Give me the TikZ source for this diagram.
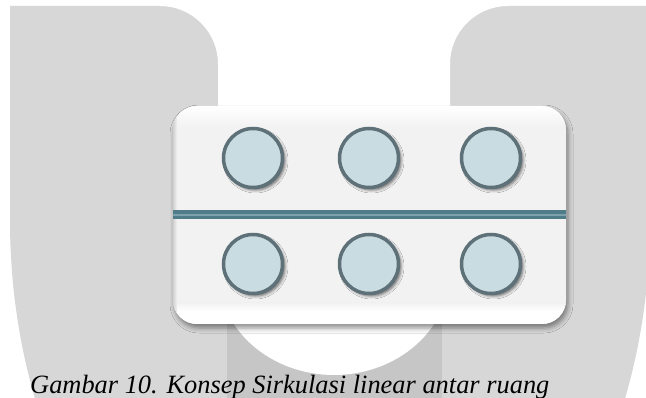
\documentclass[tikz,border=0pt]{standalone}
\usepackage{fontspec}
\setmainfont{Liberation Serif}
\usetikzlibrary{shadows.blur}

\definecolor{pillar}{HTML}{D7D7D7}
\definecolor{strip}{HTML}{C6C6C6}
\definecolor{card}{HTML}{F2F2F2}
\definecolor{roomfill}{HTML}{C9DCE1}
\definecolor{roomedge}{HTML}{5E7078}
\definecolor{pathdark}{HTML}{4F7C88}
\definecolor{pathlight}{HTML}{7BA2AB}

\tikzset{
  room/.style={circle, minimum size=59pt, inner sep=0pt, draw=roomedge,
    line width=3.5pt, fill=roomfill,
    blur shadow={shadow xshift=2.5pt, shadow yshift=-2.5pt,
      shadow blur radius=3pt, shadow opacity=60}},
  cardbox/.style={fill=card, rounded corners=24pt, inner sep=0pt,
    minimum width=393pt, minimum height=218pt,
    blur shadow={shadow xshift=2pt, shadow yshift=-4pt,
      shadow blur radius=5pt, shadow opacity=45}},
  caption/.style={anchor=base west, inner sep=0pt,
    font=\fontsize{26.4}{30}\selectfont\itshape}
}

\begin{document}
\begin{tikzpicture}[x=1pt, y=-1pt]
\useasboundingbox (0,0) rectangle (646,398);
\fill[white] (0,0) rectangle (646,398);

% watermark: outer U body
\fill[pillar] (10,6) -- (10,220)
  arc[start angle=180, end angle=0, x radius=320, y radius=460]
  -- (650,6) -- cycle;
% darker band down the middle
\fill[strip] (227,250) rectangle (442,398);
% hollow of the U
\fill[white] (160,-2) -- (160,6)
  arc[start angle=-90, end angle=0, radius=58]
  -- (218,272)
  arc[start angle=180, end angle=0, x radius=116, y radius=103]
  -- (450,64)
  arc[start angle=180, end angle=270, radius=58]
  -- (508,-2) -- cycle;

% card
\node[cardbox] (card) at (369.5,215) {};
\begin{scope}
  \clip[rounded corners=24pt] (173,106) rectangle (566,324);
  \shade[top color=white, bottom color=card] (173,106) rectangle (566,127);
  \shade[top color=card, bottom color=white] (173,303) rectangle (566,311);
  \fill[white] (173,311) rectangle (566,324);
  \shade[left color=black!18, right color=card] (173,106) rectangle (177,324);
\end{scope}

% circulation path
\draw[pathdark, line width=9pt] (card.west) -- (card.east);
\draw[pathlight, line width=2.5pt] (card.west) -- (card.east);

% rooms
\node[room] (r1) at (253,158) {};
\node[room] (r2) at (369,158) {};
\node[room] (r3) at (491,158) {};
\node[room] (r4) at (253,264) {};
\node[room] (r5) at (369,264) {};
\node[room] (r6) at (491,264) {};

% caption
\node[caption] (cap) at (30,393.5) {Gambar 10. Konsep Sirkulasi linear antar ruang};
\end{tikzpicture}
\end{document}
